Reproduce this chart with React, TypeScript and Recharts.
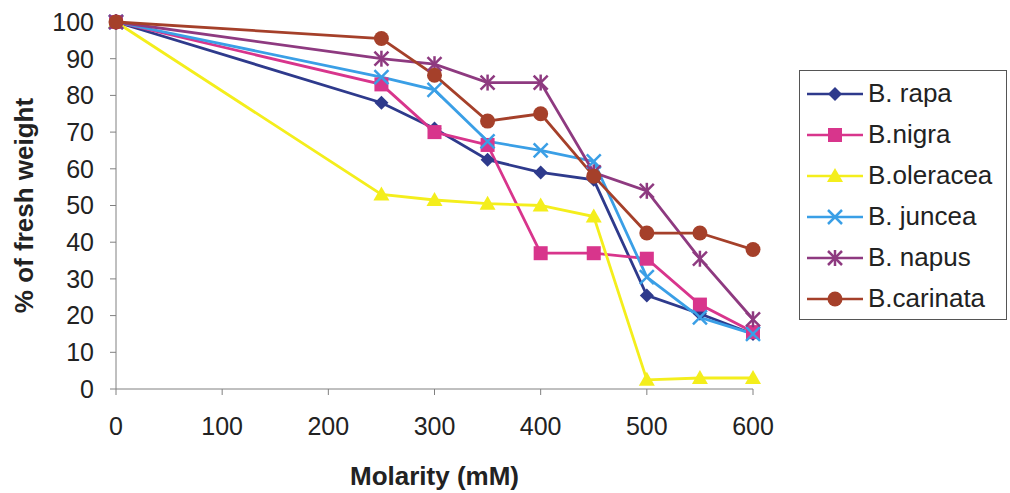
import React from "react";
import { LineChart, Line, XAxis, YAxis, Legend } from "recharts";

const molarity = [0, 250, 300, 350, 400, 450, 500, 550, 600];
const rapa = [100, 78, 71, 62.5, 59, 57, 25.5, 20.5, 15];
const nigra = [100, 83, 70, 66.5, 37, 37, 35.5, 23, 15.5];
const oleracea = [100, 53, 51.5, 50.5, 50, 47, 2.5, 3, 3];
const juncea = [100, 85, 81.5, 67.5, 65, 62, 30.5, 19.5, 15];
const napus = [100, 90, 88.5, 83.5, 83.5, 59, 54, 35.5, 19];
const carinata = [100, 95.5, 85.5, 73, 75, 58, 42.5, 42.5, 38];

const xTicks = [0, 100, 200, 300, 400, 500, 600];
const yTicks = [0, 10, 20, 30, 40, 50, 60, 70, 80, 90, 100];

const series = [
  { key: "rapa", name: "B. rapa", color: "#2E3A8C", shape: "diamond", values: rapa },
  { key: "nigra", name: "B.nigra", color: "#D8358C", shape: "square", values: nigra },
  { key: "oleracea", name: "B.oleracea", color: "#F4EE1C", shape: "triangle", values: oleracea },
  { key: "juncea", name: "B. juncea", color: "#3A9FE6", shape: "cross", values: juncea },
  { key: "napus", name: "B. napus", color: "#8E3A80", shape: "star", values: napus },
  { key: "carinata", name: "B.carinata", color: "#A5402A", shape: "circle", values: carinata },
];

const data = molarity.map((m, i) => {
  const row: Record<string, number> = { m };
  series.forEach((s) => (row[s.key] = s.values[i]));
  return row;
});

const FONT = "'Liberation Sans', Arial, sans-serif";

const Marker = ({ shape, color, cx, cy }: { shape: string; color: string; cx: number; cy: number }) => {
  const r = 7;
  switch (shape) {
    case "diamond":
      return <polygon points={`${cx},${cy - r} ${cx + r},${cy} ${cx},${cy + r} ${cx - r},${cy}`} fill={color} />;
    case "square":
      return <rect x={cx - 7} y={cy - 7} width={14} height={14} fill={color} />;
    case "triangle":
      return <polygon points={`${cx},${cy - 8} ${cx + 8},${cy + 6} ${cx - 8},${cy + 6}`} fill={color} />;
    case "cross":
      return (
        <g stroke={color} strokeWidth={2.5}>
          <line x1={cx - r} y1={cy - r} x2={cx + r} y2={cy + r} />
          <line x1={cx - r} y1={cy + r} x2={cx + r} y2={cy - r} />
        </g>
      );
    case "star":
      return (
        <g stroke={color} strokeWidth={2.5}>
          <line x1={cx - r} y1={cy - r} x2={cx + r} y2={cy + r} />
          <line x1={cx - r} y1={cy + r} x2={cx + r} y2={cy - r} />
          <line x1={cx} y1={cy - r - 1} x2={cx} y2={cy + r + 1} />
        </g>
      );
    default:
      return <circle cx={cx} cy={cy} r={7.5} fill={color} />;
  }
};

const order = (key: string) => series.findIndex((s) => s.key === key);

const renderLegend = (props: any) => {
  const payload = [...props.payload].sort((a: any, b: any) => order(a.dataKey) - order(b.dataKey));
  return (
    <div
      style={{
        border: "1.5px solid #555",
        background: "#fff",
        paddingTop: 2,
        width: 208,
        boxSizing: "border-box",
        fontFamily: FONT,
      }}
    >
      {payload.map((entry: any) => {
        const s = series[order(entry.dataKey)];
        return (
          <div key={entry.value} style={{ display: "flex", alignItems: "center", height: 41, paddingLeft: 7 }}>
            <svg width={56} height={20}>
              <line x1={0} y1={10} x2={56} y2={10} stroke={entry.color} strokeWidth={2.5} />
              <Marker shape={s.shape} color={entry.color} cx={28} cy={10} />
            </svg>
            <span style={{ marginLeft: 5, fontSize: 26, color: "#222", lineHeight: "41px" }}>{entry.value}</span>
          </div>
        );
      })}
    </div>
  );
};

export default function App() {
  return (
    <div style={{ width: 1010, height: 493, background: "#fff" }}>
      <style>{`body{margin:0}`}</style>
      <LineChart width={1010} height={493} data={data} margin={{ top: 22, right: 257, bottom: 0, left: 0 }}>
        <XAxis
          dataKey="m"
          type="number"
          domain={[0, 600]}
          ticks={xTicks}
          height={104}
          tickSize={6}
          tickMargin={22}
          stroke="#808080"
          tick={{ fill: "#222", fontSize: 25, fontFamily: FONT }}
          label={{
            value: "Molarity (mM)",
            position: "insideBottom",
            offset: 8,
            style: { fill: "#222", fontSize: 26, fontWeight: 700, fontFamily: FONT },
          }}
        />
        <YAxis
          type="number"
          domain={[0, 100]}
          ticks={yTicks}
          width={116}
          tickSize={6}
          tickMargin={16}
          stroke="#808080"
          tick={{ fill: "#222", fontSize: 25, fontFamily: FONT }}
          label={{
            value: "% of fresh weight",
            angle: -90,
            position: "insideLeft",
            offset: 24,
            style: { fill: "#222", fontSize: 26, fontWeight: 700, fontFamily: FONT, textAnchor: "middle" },
          }}
        />
        {series.map((s) => (
          <Line
            key={s.key}
            dataKey={s.key}
            name={s.name}
            stroke={s.color}
            strokeWidth={2.8}
            isAnimationActive={false}
            dot={(p: any) => <Marker key={`${s.key}-${p.index}`} shape={s.shape} color={s.color} cx={p.cx} cy={p.cy} />}
            activeDot={false}
          />
        ))}
        <Legend
          layout="horizontal"
          align="center"
          verticalAlign="middle"
          content={renderLegend}
          wrapperStyle={{ position: "absolute", left: 799, top: 70, width: 208, height: 250 }}
        />
      </LineChart>
    </div>
  );
}
